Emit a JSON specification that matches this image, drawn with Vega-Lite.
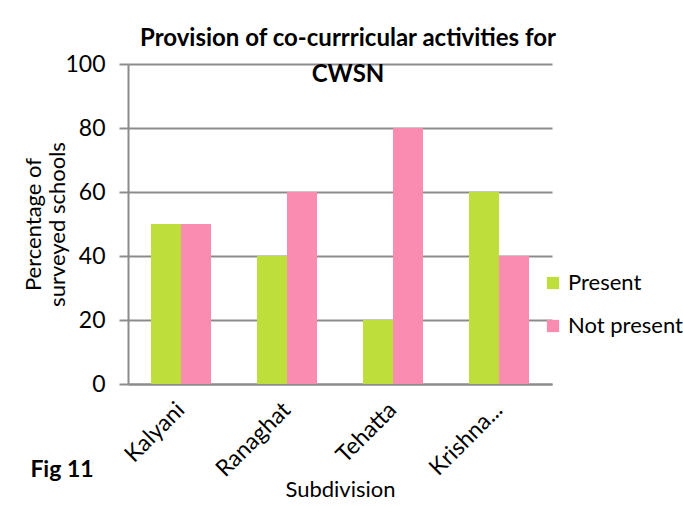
{
  "$schema": "https://vega.github.io/schema/vega-lite/v6.json",
  "autosize": "none",
  "width": 424,
  "height": 320,
  "padding": {"left": 128, "top": 64, "right": 131, "bottom": 122},
  "background": "white",
  "title": {
    "text": ["Provision of co-currricular activities for", "CWSN"],
    "anchor": "middle",
    "font": "Lato",
    "fontSize": 24,
    "fontWeight": "bold",
    "color": "#000000",
    "lineHeight": 36,
    "offset": -34,
    "dx": 8
  },
  "config": {
    "font": "Lato",
    "view": {"stroke": null},
    "axis": {
      "labelFont": "Lato",
      "titleFont": "Lato",
      "labelColor": "#000000",
      "titleColor": "#000000",
      "titleFontWeight": "normal",
      "domainColor": "#8c8c8c",
      "domainWidth": 2,
      "tickColor": "#8c8c8c",
      "tickWidth": 2
    }
  },
  "data": {
    "values": [
      {"subdivision": "Kalyani", "status": "Present", "pct": 50},
      {"subdivision": "Kalyani", "status": "Not present", "pct": 50},
      {"subdivision": "Ranaghat", "status": "Present", "pct": 40},
      {"subdivision": "Ranaghat", "status": "Not present", "pct": 60},
      {"subdivision": "Tehatta", "status": "Present", "pct": 20},
      {"subdivision": "Tehatta", "status": "Not present", "pct": 80},
      {"subdivision": "Krishna...", "status": "Present", "pct": 60},
      {"subdivision": "Krishna...", "status": "Not present", "pct": 40}
    ]
  },
  "encoding": {
    "x": {
      "field": "subdivision",
      "type": "nominal",
      "sort": ["Kalyani", "Ranaghat", "Tehatta", "Krishna..."],
      "scale": {"paddingInner": 0.434, "paddingOuter": 0.217},
      "axis": {
        "title": "Subdivision",
        "titleFontSize": 22,
        "titlePadding": -2,
        "labelAngle": -45,
        "labelAlign": "right",
        "labelBaseline": "middle",
        "labelFontSize": 23,
        "labelPadding": 22,
        "ticks": false
      }
    }
  },
  "layer": [
    {
      "mark": {"type": "bar"},
      "encoding": {
        "xOffset": {"field": "status", "type": "nominal", "sort": ["Present", "Not present"], "scale": {"paddingInner": 0, "paddingOuter": 0}},
        "y": {
          "field": "pct",
          "type": "quantitative",
          "scale": {"domain": [0, 100]},
          "axis": {
            "title": ["Percentage of", "surveyed schools"],
            "titleFontSize": 22,
            "titleLineHeight": 24,
            "titlePadding": -5,
            "values": [0, 20, 40, 60, 80, 100],
            "labelFontSize": 23,
            "labelPadding": 14,
            "tickSize": 9,
            "grid": true,
            "gridColor": "#8c8c8c",
            "gridWidth": 2
          }
        },
        "color": {
          "field": "status",
          "type": "nominal",
          "sort": ["Present", "Not present"],
          "scale": {"domain": ["Present", "Not present"], "range": ["#BEDE3B", "#F98CB0"]},
          "legend": {
            "title": null,
            "orient": "none",
            "legendX": 414,
            "legendY": 208,
            "symbolType": "square",
            "symbolSize": 150,
            "symbolStrokeWidth": 0,
            "labelFont": "Lato",
            "labelFontSize": 22,
            "labelColor": "#000000",
            "labelOffset": 4,
            "rowPadding": 21
          }
        }
      }
    },
    {
      "data": {"values": [{"label": "Fig 11"}]},
      "mark": {"type": "text", "font": "Lato", "fontSize": 23, "fontWeight": "bold", "color": "#000000", "dx": -119, "baseline": "middle"},
      "encoding": {
        "x": {"datum": "Kalyani"},
        "y": {"datum": -27},
        "text": {"field": "label"}
      }
    }
  ]
}
